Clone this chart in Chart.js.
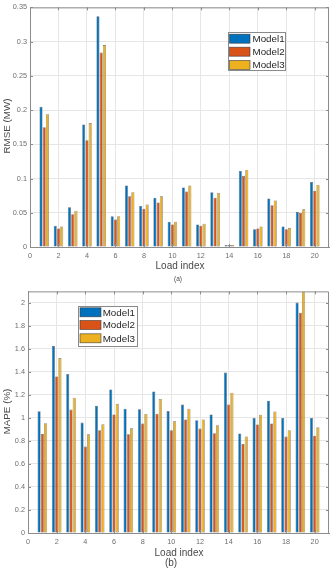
<!DOCTYPE html>
<html>
<head>
<meta charset="utf-8">
<script src="https://cdn.jsdelivr.net/npm/chart.js@4"></script>
<style>
html,body{margin:0;padding:0;background:#fff;width:336px;height:568px;overflow:hidden;}
canvas{position:absolute;left:0;display:block;}
#c1{top:0;}
#c2{top:284px;}
</style>
</head>
<body>
<canvas id="c1" width="336" height="284"></canvas>
<canvas id="c2" width="336" height="284"></canvas>
<script>
// ---- data ----
const loadIndex = [1,2,3,4,5,6,7,8,9,10,11,12,13,14,15,16,17,18,19,20];
const seriesNames = ['Model1','Model2','Model3'];
const rmseModel1 = [0.205,0.031,0.058,0.179,0.337,0.045,0.090,0.060,0.072,0.037,0.087,0.033,0.080,0.003,0.111,0.026,0.071,0.030,0.051,0.095];
const rmseModel2 = [0.175,0.027,0.048,0.156,0.284,0.040,0.074,0.056,0.065,0.033,0.081,0.031,0.072,0.003,0.104,0.027,0.061,0.026,0.050,0.082];
const rmseModel3 = [0.194,0.030,0.053,0.181,0.295,0.045,0.080,0.062,0.074,0.037,0.090,0.034,0.079,0.003,0.113,0.030,0.068,0.028,0.055,0.091];
const mapeModel1 = [1.058,1.625,1.382,0.960,1.105,1.248,1.080,1.075,1.230,1.060,1.116,0.980,1.030,1.394,0.865,1.000,1.150,1.000,2.003,1.000];
const mapeModel2 = [0.860,1.360,1.073,0.751,0.894,1.030,0.858,0.951,1.037,0.893,0.987,0.908,0.868,1.116,0.773,0.944,0.952,0.838,1.914,0.846];
const mapeModel3 = [0.954,1.520,1.176,0.858,0.945,1.123,0.910,1.035,1.165,0.971,1.080,0.987,0.937,1.220,0.838,1.028,1.055,0.893,2.100,0.919];
const xTicks = [0,2,4,6,8,10,12,14,16,18,20];
const rmseTicks = [0,0.05,0.1,0.15,0.2,0.25,0.3,0.35];
const mapeTicks = [0,0.2,0.4,0.6,0.8,1,1.2,1.4,1.6,1.8,2];

const colors = ['#0072BD','#D95319','#EDB120'];
const FONT = '"Liberation Sans", Arial, sans-serif';
const AXIS = '#8c8c8c';
const GRID = '#e6e6e6';

function makeDatasets(arrs){
  return arrs.map((arr,i)=>({
    label: seriesNames[i],
    data: loadIndex.map((x,j)=>({x:x,y:arr[j]})),
    backgroundColor: colors[i],
    borderColor: 'rgba(40,40,40,0.7)',
    borderWidth: 0.6,
    borderSkipped: false,
    categoryPercentage: 0.68,
    barPercentage: 0.95
  }));
}

function boxPlugin(cfg){
  return {
    id:'box',
    afterDatasetsDraw(chart){
      const ctx = chart.ctx, a = chart.chartArea;
      const xs = chart.scales.x, ys = chart.scales.y;
      ctx.save();
      ctx.strokeStyle = AXIS; ctx.lineWidth = 1;
      ctx.beginPath();
      ctx.moveTo(a.left+0.5, a.top+0.5); ctx.lineTo(a.right-0.5, a.top+0.5); ctx.lineTo(a.right-0.5, a.bottom);
      ctx.stroke();
      // inward ticks
      ctx.beginPath();
      xTicks.forEach(v=>{
        const px = Math.round(xs.getPixelForValue(v))+0.5;
        ctx.moveTo(px, a.bottom); ctx.lineTo(px, a.bottom-3);
        ctx.moveTo(px, a.top); ctx.lineTo(px, a.top+3);
      });
      cfg.yTicks.forEach(v=>{
        const py = Math.round(ys.getPixelForValue(v))+0.5;
        ctx.moveTo(a.left, py); ctx.lineTo(a.left+3, py);
        ctx.moveTo(a.right, py); ctx.lineTo(a.right-3, py);
      });
      ctx.stroke();
      // legend
      const L = cfg.legend;
      ctx.fillStyle = '#fff';
      ctx.fillRect(L.x0, L.y0, L.x1-L.x0, L.y1-L.y0);
      ctx.strokeStyle = '#8a8a8a'; ctx.lineWidth = 1;
      ctx.strokeRect(L.x0+0.5, L.y0+0.5, L.x1-L.x0-1, L.y1-L.y0-1);
      seriesNames.forEach((n,i)=>{
        const cy = L.rows[i];
        ctx.fillStyle = colors[i];
        ctx.fillRect(L.sx0, cy-4.5, L.sx1-L.sx0, 9);
        ctx.strokeStyle = 'rgba(50,50,50,0.8)'; ctx.lineWidth = 0.7;
        ctx.strokeRect(L.sx0, cy-4.5, L.sx1-L.sx0, 9);
        ctx.fillStyle = '#262626';
        ctx.font = '9.8px '+FONT;
        ctx.textAlign = 'left'; ctx.textBaseline = 'middle';
        ctx.fillText(n, L.tx, cy+0.5);
      });
      // titles
      ctx.fillStyle = '#4a4a4a';
      ctx.textAlign = 'center'; ctx.textBaseline = 'middle';
      ctx.font = '10px '+FONT;
      ctx.fillText('Load index', cfg.xTitle[0], cfg.xTitle[1]);
      ctx.font = cfg.capFont+'px '+FONT;
      ctx.fillText(cfg.caption, cfg.capPos[0], cfg.capPos[1]);
      ctx.save();
      ctx.translate(cfg.yTitle[0], cfg.yTitle[1]);
      ctx.rotate(-Math.PI/2);
      ctx.font = '9.8px '+FONT;
      ctx.fillText(cfg.yTitleText, 0, 0);
      ctx.restore();
      ctx.restore();
    }
  };
}

function makeChart(id, arrs, yMax, yTicks, yWidth, xHeight, padTop, fmt, cfg){
  return new Chart(document.getElementById(id), {
    type:'bar',
    data:{datasets: makeDatasets(arrs)},
    options:{
      responsive:false, animation:false, devicePixelRatio:1,
      layout:{padding:{left:0, top:padTop, right:7, bottom:0}},
      plugins:{legend:{display:false}, tooltip:{enabled:false}},
      scales:{
        x:{
          type:'linear', min:0, max:21, offset:false,
          afterBuildTicks(s){ s.ticks = xTicks.map(v=>({value:v})); },
          afterFit(s){ s.height = xHeight; },
          grid:{color:GRID, offset:false, drawTicks:false, lineWidth:1},
          border:{display:true, color:AXIS, width:1},
          ticks:{padding:5, color:'#6e6e6e', font:{size:7.3, family:FONT}, maxRotation:0, autoSkip:false}
        },
        y:{
          min:0, max:yMax,
          afterBuildTicks(s){ s.ticks = yTicks.map(v=>({value:v})); },
          afterFit(s){ s.width = yWidth; },
          grid:{color:GRID, drawTicks:false, lineWidth:1},
          border:{display:true, color:AXIS, width:1},
          ticks:{padding:3, color:'#6e6e6e', font:{size:7.3, family:FONT}, callback:fmt}
        }
      }
    },
    plugins:[boxPlugin(Object.assign({yTicks:yTicks}, cfg))]
  });
}

makeChart('c1', [rmseModel1, rmseModel2, rmseModel3], 0.35, rmseTicks, 30, 37, 6,
  v=>String(+(+v).toFixed(2)),
  {legend:{x0:228,y0:32,x1:286,y1:71,rows:[38.7,51.7,65],sx0:229.5,sx1:250,tx:252.5},
   xTitle:[180,266.7], caption:'(a)', capFont:6.5, capPos:[178,279],
   yTitle:[7,126], yTitleText:'RMSE (MW)'});

makeChart('c2', [mapeModel1, mapeModel2, mapeModel3], 2.1, mapeTicks, 28, 35, 7,
  v=>String(+(+v).toFixed(1)),
  {legend:{x0:78,y0:22,x1:138,y1:63,rows:[28.3,41,54.3],sx0:80,sx1:101,tx:102.7},
   xTitle:[179,269], caption:'(b)', capFont:10, capPos:[171,279],
   yTitle:[7,127.5], yTitleText:'MAPE (%)'});
</script>
</body>
</html>
